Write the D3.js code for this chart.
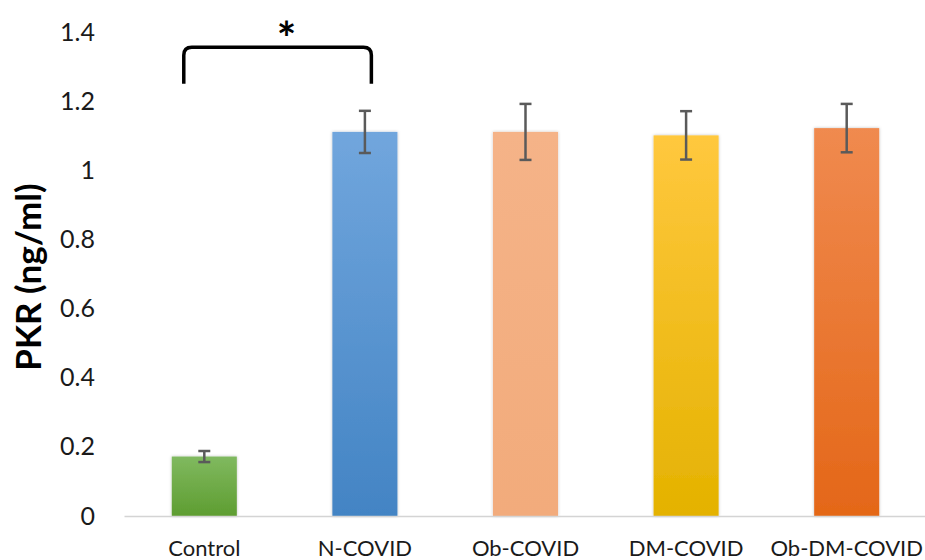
<!DOCTYPE html>
<html>
<head>
<meta charset="utf-8">
<script src="https://cdn.jsdelivr.net/npm/d3@7"></script>
<style>
  body { margin: 0; background: #fff; }
  text { font-family: Lato, "Open Sans", sans-serif; }
</style>
</head>
<body>
<div id="chart"></div>
<script>
// groups and values
var groups = ["Control", "N-COVID", "Ob-COVID", "DM-COVID", "Ob-DM-COVID"];
var means = [0.172, 1.111, 1.111, 1.101, 1.122];
var errs = [0.016, 0.061, 0.081, 0.07, 0.07];
var yTicks = [0, 0.2, 0.4, 0.6, 0.8, 1, 1.2, 1.4];
// top / bottom gradient colours per bar
var topColors = ["#80b95f", "#71a6dd", "#f5b388", "#ffc83e", "#f08a4f"];
var bottomColors = ["#5e9d31", "#4384c4", "#f2ab7b", "#e4b200", "#e46718"];

var width = 925, height = 560;
var margin = {top: 32, right: -2, bottom: 44, left: 124};

var svg = d3.select("#chart")
  .append("svg")
    .attr("width", width)
    .attr("height", height);

var x = d3.scaleBand()
    .domain(groups)
    .range([margin.left, width - margin.right])
    .paddingInner(0.595)
    .paddingOuter(0.2975);

var y = d3.scaleLinear()
    .domain([0, 1.4])
    .range([height - margin.bottom, margin.top]);

var defs = svg.append("defs");
groups.forEach(function(g, i) {
  var grad = defs.append("linearGradient")
      .attr("id", "grad" + i)
      .attr("x1", 0).attr("y1", 0).attr("x2", 0).attr("y2", 1);
  grad.append("stop").attr("offset", "0%").attr("stop-color", topColors[i]);
  grad.append("stop").attr("offset", "100%").attr("stop-color", bottomColors[i]);
});
var shadow = defs.append("filter").attr("id", "shadow")
    .attr("x", "-20%").attr("y", "-5%").attr("width", "140%").attr("height", "110%");
shadow.append("feDropShadow")
    .attr("dx", 0).attr("dy", 0).attr("stdDeviation", 1.5)
    .attr("flood-color", "#000").attr("flood-opacity", 0.25);

// y tick labels (no axis line)
var yAxis = svg.append("g")
    .attr("transform", "translate(" + (margin.left - 29) + ",0)")
    .call(d3.axisLeft(y).tickValues(yTicks).tickSize(0).tickFormat(d3.format("~g")));
yAxis.select(".domain").remove();
yAxis.selectAll("text")
    .attr("x", 0)
    .style("font-family", "Lato, sans-serif")
    .style("font-size", "25px")
    .attr("fill", "#1a1a1a");

// bars
svg.append("g")
  .selectAll("rect")
  .data(groups)
  .enter()
  .append("rect")
    .attr("x", d => x(d))
    .attr("y", (d, i) => y(means[i]))
    .attr("width", x.bandwidth())
    .attr("height", (d, i) => y(0) - y(means[i]))
    .attr("fill", (d, i) => "url(#grad" + i + ")")
    .attr("filter", "url(#shadow)");

// baseline
var xAxis = svg.append("g")
    .attr("transform", "translate(0," + y(0) + ")")
    .call(d3.axisBottom(x).tickSize(0).tickPadding(24));
xAxis.select(".domain")
    .attr("stroke", "#d4d4d4")
    .attr("stroke-width", 1.5);
xAxis.selectAll("text")
    .style("font-family", "Lato, sans-serif")
    .style("font-size", "22px")
    .attr("fill", "#1a1a1a");

// error bars
var eb = svg.append("g")
    .attr("stroke", "#5a5a5a")
    .attr("stroke-width", 2.5);
groups.forEach(function(g, i) {
  var cx = x(g) + x.bandwidth() / 2;
  eb.append("line")
      .attr("x1", cx).attr("x2", cx)
      .attr("y1", y(means[i] + errs[i])).attr("y2", y(means[i] - errs[i]));
  [means[i] + errs[i], means[i] - errs[i]].forEach(function(v) {
    eb.append("line")
        .attr("x1", cx - 6).attr("x2", cx + 6)
        .attr("y1", y(v)).attr("y2", y(v));
  });
});

// significance bracket between Control and N-COVID
var bx1 = x("Control") + 12, bx2 = x("N-COVID") + 39;
var by = y(1.356), byEnd = y(1.25), r = 8;
svg.append("path")
    .attr("d", "M" + bx1 + "," + byEnd +
               " L" + bx1 + "," + (by + r) +
               " Q" + bx1 + "," + by + " " + (bx1 + r) + "," + by +
               " L" + (bx2 - r) + "," + by +
               " Q" + bx2 + "," + by + " " + bx2 + "," + (by + r) +
               " L" + bx2 + "," + byEnd)
    .attr("fill", "none")
    .attr("stroke", "#000")
    .attr("stroke-width", 3.5);
svg.append("text")
    .attr("x", (bx1 + bx2) / 2 + 9)
    .attr("y", by + 8)
    .attr("text-anchor", "middle")
    .style("font-size", "46px")
    .style("font-weight", "bold")
    .text("*");

// y axis title
svg.append("text")
    .attr("transform", "translate(41," + 277 + ") rotate(-90)")
    .attr("text-anchor", "middle")
    .style("font-size", "35px")
    .style("font-weight", "bold")
    .attr("fill", "#000")
    .text("PKR (ng/ml)");
</script>
</body>
</html>
